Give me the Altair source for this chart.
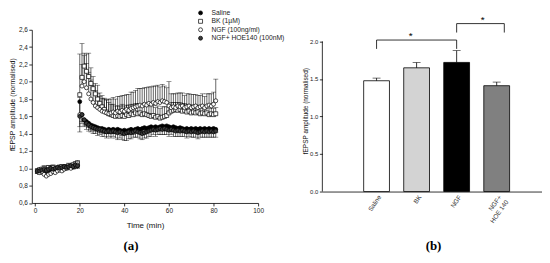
import altair as alt
import pandas as pd

# ---------------- panel (a): time course ----------------
minutes = list(range(1, 82))
series_names = ["Saline", "BK (1µM)", "NGF (100ng/ml)", "NGF+ HOE140 (100nM)"]
series_dir = [-1, 1, 1, -1]  # error bars drawn down / up

saline = [0.96, 0.96, 0.97, 0.96, 0.98, 0.97, 0.98, 0.99, 0.98, 0.99,
          1.00, 0.99, 1.00, 1.01, 1.01, 1.02, 1.02, 1.03, 1.03,
          1.77, 1.62, 1.56, 1.54, 1.52, 1.50, 1.49, 1.48, 1.47, 1.46,
          1.46, 1.45, 1.44, 1.45, 1.44, 1.45, 1.44, 1.45, 1.44, 1.43,
          1.44, 1.43, 1.44, 1.45, 1.44, 1.45, 1.46, 1.45, 1.46, 1.47,
          1.46, 1.47, 1.48, 1.47, 1.48, 1.47, 1.48, 1.49, 1.48, 1.49,
          1.48, 1.47, 1.48, 1.47, 1.46, 1.47, 1.46, 1.45, 1.46, 1.45,
          1.46, 1.45, 1.46, 1.45, 1.46, 1.45, 1.46, 1.45, 1.46, 1.45,
          1.46, 1.45]
saline_err = [0.02, 0.03, 0.02, 0.03, 0.02, 0.03, 0.02, 0.03, 0.02, 0.03,
              0.02, 0.03, 0.02, 0.03, 0.02, 0.03, 0.02, 0.03, 0.02,
              0.35, 0.08, 0.06, 0.05, 0.05, 0.05, 0.05, 0.05, 0.05, 0.05,
              0.05, 0.05, 0.04, 0.05, 0.04, 0.05, 0.04, 0.05, 0.04, 0.05,
              0.05, 0.04, 0.05, 0.04, 0.05, 0.04, 0.05, 0.04, 0.05, 0.04,
              0.05, 0.04, 0.05, 0.04, 0.05, 0.04, 0.05, 0.04, 0.05, 0.04,
              0.05, 0.04, 0.05, 0.04, 0.05, 0.04, 0.05, 0.04, 0.05, 0.04,
              0.05, 0.04, 0.05, 0.04, 0.05, 0.04, 0.05, 0.04, 0.05, 0.04,
              0.05, 0.04]

bk = [0.97, 0.98, 0.99, 1.00, 0.98, 1.01, 1.00, 1.01, 0.99, 1.00,
      1.01, 1.02, 1.01, 1.02, 1.03, 1.02, 1.04, 1.05, 1.06,
      1.85, 2.05, 2.18, 2.12, 2.06, 1.98, 1.92, 1.86, 1.80, 1.75,
      1.71, 1.68, 1.65, 1.63, 1.62, 1.61, 1.60, 1.61, 1.60, 1.61,
      1.60, 1.62, 1.61, 1.63, 1.62, 1.64, 1.63, 1.64, 1.62, 1.63,
      1.62, 1.61, 1.60, 1.61, 1.59, 1.60, 1.58, 1.59, 1.60, 1.61,
      1.64, 1.66, 1.67, 1.68, 1.67, 1.68, 1.66, 1.67, 1.65, 1.66,
      1.64, 1.65, 1.64, 1.65, 1.63, 1.64, 1.63, 1.64, 1.62, 1.63,
      1.62, 1.63]
bk_err = [0.03, 0.03, 0.02, 0.03, 0.03, 0.02, 0.03, 0.03, 0.02, 0.03,
          0.03, 0.02, 0.03, 0.02, 0.03, 0.03, 0.02, 0.03, 0.03,
          0.47, 0.39, 0.15, 0.20, 0.27, 0.18, 0.14, 0.12, 0.16, 0.12,
          0.13, 0.12, 0.14, 0.13, 0.12, 0.13, 0.12, 0.11, 0.12, 0.13,
          0.12, 0.11, 0.12, 0.11, 0.12, 0.11, 0.12, 0.10, 0.11, 0.12,
          0.11, 0.12, 0.11, 0.12, 0.11, 0.12, 0.11, 0.12, 0.11, 0.10,
          0.09, 0.10, 0.09, 0.08, 0.09, 0.08, 0.09, 0.08, 0.09, 0.08,
          0.09, 0.08, 0.09, 0.08, 0.09, 0.08, 0.07, 0.08, 0.07, 0.08,
          0.07, 0.07]

ngf = [0.96, 0.95, 0.96, 0.93, 0.91, 0.93, 0.94, 0.96, 0.95, 0.97,
       0.98, 0.97, 0.99, 1.00, 1.01, 1.00, 1.02, 1.03, 1.04,
       1.62, 1.95, 2.00, 1.93, 1.86, 1.80, 1.76, 1.72, 1.70, 1.68,
       1.66, 1.65, 1.64, 1.63, 1.64, 1.65, 1.64, 1.66, 1.65, 1.67,
       1.66, 1.68, 1.67, 1.69, 1.70, 1.71, 1.72, 1.73, 1.72, 1.74,
       1.73, 1.75, 1.74, 1.76, 1.75, 1.77, 1.76, 1.78, 1.77, 1.76,
       1.72, 1.70, 1.71, 1.70, 1.72, 1.71, 1.72, 1.70, 1.71, 1.72,
       1.70, 1.71, 1.72, 1.70, 1.71, 1.72, 1.70, 1.72, 1.73, 1.72,
       1.74, 1.78]
ngf_err = [0.03, 0.04, 0.03, 0.04, 0.03, 0.04, 0.03, 0.04, 0.03, 0.04,
           0.03, 0.04, 0.03, 0.04, 0.03, 0.04, 0.03, 0.04, 0.03,
           0.20, 0.25, 0.30, 0.28, 0.25, 0.22, 0.20, 0.18, 0.16, 0.15,
           0.15, 0.16, 0.15, 0.17, 0.16, 0.17, 0.16, 0.17, 0.18, 0.17,
           0.18, 0.17, 0.18, 0.19, 0.18, 0.19, 0.20, 0.19, 0.20, 0.19,
           0.20, 0.19, 0.20, 0.19, 0.20, 0.19, 0.18, 0.19, 0.18, 0.17,
           0.28, 0.16, 0.15, 0.16, 0.15, 0.16, 0.15, 0.14, 0.15, 0.14,
           0.15, 0.14, 0.13, 0.14, 0.13, 0.14, 0.13, 0.14, 0.13, 0.14,
           0.14, 0.25]

hoe = [0.97, 0.97, 0.98, 0.99, 0.98, 0.99, 1.00, 0.99, 1.00, 1.01,
       1.00, 1.01, 1.02, 1.01, 1.02, 1.03, 1.02, 1.04, 1.03,
       1.60, 1.62, 1.56, 1.52, 1.50, 1.48, 1.47, 1.46, 1.45, 1.45,
       1.44, 1.43, 1.42, 1.43, 1.42, 1.43, 1.42, 1.41, 1.42, 1.41,
       1.40, 1.41, 1.42, 1.41, 1.42, 1.43, 1.42, 1.41, 1.40, 1.41,
       1.42, 1.43, 1.44, 1.45, 1.44, 1.45, 1.46, 1.45, 1.46, 1.45,
       1.44, 1.45, 1.44, 1.43, 1.44, 1.43, 1.44, 1.43, 1.42, 1.43,
       1.42, 1.43, 1.42, 1.41, 1.42, 1.43, 1.42, 1.43, 1.42, 1.43,
       1.42, 1.43]
hoe_err = [0.03, 0.02, 0.03, 0.02, 0.03, 0.02, 0.03, 0.02, 0.03, 0.02,
           0.03, 0.02, 0.03, 0.02, 0.03, 0.02, 0.03, 0.02, 0.03,
           0.12, 0.10, 0.08, 0.07, 0.07, 0.06, 0.07, 0.06, 0.07, 0.06,
           0.07, 0.06, 0.07, 0.06, 0.07, 0.06, 0.07, 0.08, 0.07, 0.08,
           0.08, 0.09, 0.08, 0.07, 0.06, 0.07, 0.06, 0.07, 0.07, 0.06,
           0.07, 0.06, 0.07, 0.06, 0.07, 0.06, 0.07, 0.06, 0.07, 0.06,
           0.07, 0.06, 0.07, 0.06, 0.07, 0.06, 0.07, 0.06, 0.07, 0.06,
           0.06, 0.07, 0.06, 0.07, 0.06, 0.07, 0.06, 0.07, 0.06, 0.07,
           0.06, 0.07]

x_ticks_a = [0, 20, 40, 60, 80, 100]
y_ticks_a = [0.6, 0.8, 1.0, 1.2, 1.4, 1.6, 1.8, 2.0, 2.2, 2.4, 2.6]
marker_shapes = ["circle", "square", "circle", "circle"]
marker_fills = ["#000000", "#ffffff", "#ffffff", "#3a3a3a"]

# ---------------- panel (b): bar chart ----------------
bar_names = ["Saline", "BK", "NGF", "NGF+ HOE 140"]
bar_pos = [1, 2, 3, 4]
bar_means = [1.476, 1.648, 1.72, 1.41]
bar_sems = [0.035, 0.07, 0.157, 0.048]
bar_colors = ["#ffffff", "#d3d3d3", "#000000", "#808080"]
y_ticks_b = [0.0, 0.5, 1.0, 1.5, 2.0]

bracket_left = [1, 3]
bracket_right = [3, 4.19]
bracket_top = [2.018, 2.237]
bracket_bottom = [1.90, 2.118]
star_x = [1.85, 3.65]
star_y = [2.03, 2.25]

FONT = "Liberation Sans"

# ---- build long table for panel (a)
rows = []
for name, d, vals, errs in zip(series_names, series_dir,
                               [saline, bk, ngf, hoe],
                               [saline_err, bk_err, ngf_err, hoe_err]):
    for t, v, e in zip(minutes, vals, errs):
        rows.append({"minute": t, "series": name, "value": v, "end": v + d * e})
df_a = pd.DataFrame(rows)

x_a = alt.X("minute:Q",
            scale=alt.Scale(domain=[-1.5, 100], nice=False, zero=False),
            axis=alt.Axis(values=x_ticks_a, tickCount=len(x_ticks_a), title="Time (min)",
                          labelFontSize=6.5, titleFontSize=8, labelPadding=2,
                          titlePadding=7, labelOverlap=False, labelFlush=False))
y_a = alt.Y("value:Q",
            scale=alt.Scale(domain=[0.6, 2.6], nice=False, zero=False),
            axis=alt.Axis(values=y_ticks_a, tickCount=len(y_ticks_a),
                          title="fEPSP amplitude (normalised)",
                          labelExpr="replace(format(datum.value, '.1f'), '.', ',')",
                          labelFontSize=6.5, titleFontSize=7, labelPadding=1.5,
                          titlePadding=3, titleY=75, labelOverlap=False,
                          labelFlush=False))

shape_scale = alt.Scale(domain=series_names, range=marker_shapes)
fill_scale = alt.Scale(domain=series_names, range=marker_fills)

base_a = alt.Chart(df_a)
err_a = base_a.mark_rule(color="black", strokeWidth=0.6).encode(x=x_a, y=y_a, y2="end:Q")
cap_a = base_a.mark_tick(orient="horizontal", color="black", size=5, thickness=0.6).encode(
    x="minute:Q", y="end:Q")
pts_a = base_a.mark_point(size=16, stroke="black", strokeWidth=0.7, opacity=1,
                          fillOpacity=1).encode(
    x="minute:Q", y="value:Q",
    shape=alt.Shape("series:N", scale=shape_scale, legend=None),
    fill=alt.Fill("series:N", scale=fill_scale, legend=None))

# hand-drawn legend (top right of panel a)
legend_layers = []
for i, name in enumerate(series_names):
    ldf = pd.DataFrame({"series": [name]})
    legend_layers.append(alt.Chart(ldf).mark_point(
        size=16, stroke="black", strokeWidth=0.7, opacity=1, fillOpacity=1).encode(
        x=alt.value(170), y=alt.value(-17 + 8.5 * i),
        shape=alt.Shape("series:N", scale=shape_scale, legend=None),
        fill=alt.Fill("series:N", scale=fill_scale, legend=None)))
    legend_layers.append(alt.Chart(ldf).mark_text(
        font=FONT, fontSize=6.8, color="#222222", align="left", baseline="middle").encode(
        x=alt.value(181), y=alt.value(-17 + 8.5 * i), text="series:N"))

cap_text_a = alt.Chart(pd.DataFrame({"lab": ["(a)"]})).mark_text(
    font="Liberation Serif", fontWeight="bold", fontSize=13, color="black",
    baseline="middle").encode(text="lab:N", x=alt.value(100), y=alt.value(218))

panel_a = alt.layer(err_a, cap_a, pts_a, *legend_layers, cap_text_a).properties(
    width=228, height=174.5)

# ---- panel (b)
df_b = pd.DataFrame({"pos": bar_pos, "name": bar_names, "mean": bar_means,
                     "sem": bar_sems})
df_b["top"] = df_b["mean"] + df_b["sem"]

x_b = alt.X("pos:Q", scale=alt.Scale(domain=[-0.23, 5.0], nice=False, zero=False),
            axis=alt.Axis(values=bar_pos, tickCount=len(bar_pos), title=None, ticks=False,
                          labelAngle=305, labelAlign="right", labelBaseline="middle",
                          labelFontSize=6.5, labelPadding=4, labelOffset=3,
                          labelOverlap=False, labelFlush=False, labelColor="#333333",
                          labelExpr="datum.value == 1 ? 'Saline' : datum.value == 2 ? 'BK' : datum.value == 3 ? 'NGF' : ['NGF+', 'HOE 140']"))
y_b = alt.Y("mean:Q", scale=alt.Scale(domain=[0, 2.155], nice=False, zero=False),
            axis=alt.Axis(values=y_ticks_b, tickCount=len(y_ticks_b), format=".1f",
                          domain=False, title="fEPSP amplitude (normalised)",
                          labelFontSize=6, titleFontSize=6.5, labelPadding=1.5,
                          titlePadding=1, titleY=81.5, labelOverlap=False))

base_b = alt.Chart(df_b)
bars = base_b.mark_bar(size=26, stroke="black", strokeWidth=0.8).encode(
    x=x_b, y=y_b,
    fill=alt.Fill("name:N", scale=alt.Scale(domain=bar_names, range=bar_colors), legend=None))
err_b = base_b.mark_rule(color="black", strokeWidth=0.8).encode(x="pos:Q", y="mean:Q", y2="top:Q")
cap_b = base_b.mark_tick(orient="horizontal", color="black", size=8, thickness=0.8).encode(
    x="pos:Q", y="top:Q")
yaxis_line = alt.Chart(pd.DataFrame({"lo": [y_ticks_b[0]], "hi": [y_ticks_b[-1]]})).mark_rule(
    color="black", strokeWidth=0.8).encode(x=alt.value(0), y="lo:Q", y2="hi:Q")

df_br = pd.DataFrame({"l": bracket_left, "r": bracket_right, "t": bracket_top,
                      "b": bracket_bottom})
br_h = alt.Chart(df_br).mark_rule(color="black", strokeWidth=0.8).encode(
    x="l:Q", x2="r:Q", y="t:Q")
br_l = alt.Chart(df_br).mark_rule(color="black", strokeWidth=0.8).encode(
    x="l:Q", y="t:Q", y2="b:Q")
br_r = alt.Chart(df_br).mark_rule(color="black", strokeWidth=0.8).encode(
    x="r:Q", y="t:Q", y2="b:Q")
stars = alt.Chart(pd.DataFrame({"sx": star_x, "sy": star_y, "s": ["*", "*"]})).mark_text(
    font=FONT, fontSize=10, color="black", baseline="alphabetic").encode(
    x="sx:Q", y="sy:Q", text="s:N")
cap_text_b = alt.Chart(pd.DataFrame({"lab": ["(b)"]})).mark_text(
    font="Liberation Serif", fontWeight="bold", fontSize=13, color="black",
    baseline="middle").encode(text="lab:N", x=alt.value(112), y=alt.value(218))

panel_b = alt.layer(bars, err_b, cap_b, yaxis_line, br_h, br_l, br_r, stars,
                    cap_text_b).properties(width=221, height=163)

chart = alt.hconcat(panel_a, panel_b, spacing=64.7, bounds="flush").resolve_scale(
    fill="independent", shape="independent", x="independent", y="independent"
).properties(
    padding=0
).configure_view(stroke=None).configure_axis(
    grid=False, domainColor="black", tickColor="black", domainWidth=0.8,
    tickWidth=0.8, tickSize=3, labelFont=FONT, titleFont=FONT,
    labelColor="#222222", titleColor="#111111", titleFontWeight="normal",
    labelOverlap=False, labelFlush=False
)

chart.save("out.html", embed_options={"renderer": "svg", "actions": False})
